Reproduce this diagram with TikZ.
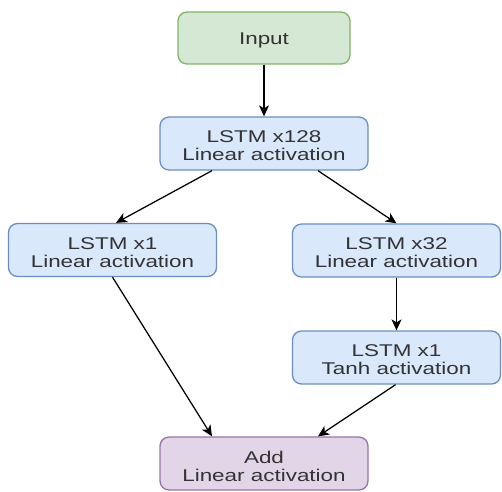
\documentclass[tikz,border=0pt]{standalone}
\usepackage{fontspec}
\setmainfont{Liberation Sans}
\newfontfamily\boxfont[FakeStretch=1.32]{Liberation Sans}
\usetikzlibrary{calc,arrows.meta}
\definecolor{gfill}{HTML}{D5E8D4}\definecolor{gline}{HTML}{82B366}
\definecolor{bfill}{HTML}{DAE8FC}\definecolor{bline}{HTML}{6C8EBF}
\definecolor{pfill}{HTML}{E1D5E7}\definecolor{pline}{HTML}{9673A6}
\definecolor{txt}{HTML}{333333}
% a rounded box, with its caption set a little below the box centre
\newcommand\flowbox[5]{%
  \node[#1] (#2) at (#3) {};
  \node[caption] at ($(#2.center)+(0,#4)$) {#5};}
\begin{document}
\begin{tikzpicture}[x=1pt,y=-1pt,
  block/.style={draw, rounded corners=9pt, line width=1.3pt, inner sep=0pt},
  caption/.style={align=center, inner sep=0pt, text=txt,
    font=\boxfont\fontsize{17}{18}\selectfont},
  inbox/.style={block, fill=gfill, draw=gline, minimum width=172pt, minimum height=52pt},
  lstm/.style={block, fill=bfill, draw=bline, minimum width=208pt, minimum height=53pt},
  addbox/.style={block, fill=pfill, draw=pline, minimum width=208pt, minimum height=53pt},
  flow/.style={draw=black, line width=1.25pt, -{Stealth[length=11pt,width=10pt,inset=3pt]}}]
\useasboundingbox (0,0) rectangle (502,491);
\flowbox{inbox}{in}{264,38}{2.5}{Input}
\flowbox{lstm}{l128}{264,143.5}{2.5}{LSTM x128\\Linear activation}
\flowbox{lstm}{lft}{112.5,250}{2.5}{LSTM x1\\Linear activation}
\flowbox{lstm}{l32}{396.5,250.5}{2.5}{LSTM x32\\Linear activation}
\flowbox{lstm}{tanh}{396.5,357.5}{2.5}{LSTM x1\\Tanh activation}
\flowbox{addbox}{add}{264,463.5}{2.5}{Add\\Linear activation}
\draw[flow] (in.south) -- (l128.north);
\draw[flow] ($(l128.south)+(-52,0)$) -- ($(lft.north)+(3.5,0)$);
\draw[flow] ($(l128.south)+(54,0)$) -- (l32.north);
\draw[flow] (l32.south) -- (tanh.north);
\draw[flow] (lft.south) -- ($(add.north)+(-52,0)$);
\draw[flow] ($(tanh.south)+(-1,0)$) -- ($(add.north)+(54,0)$);
\end{tikzpicture}
\end{document}
